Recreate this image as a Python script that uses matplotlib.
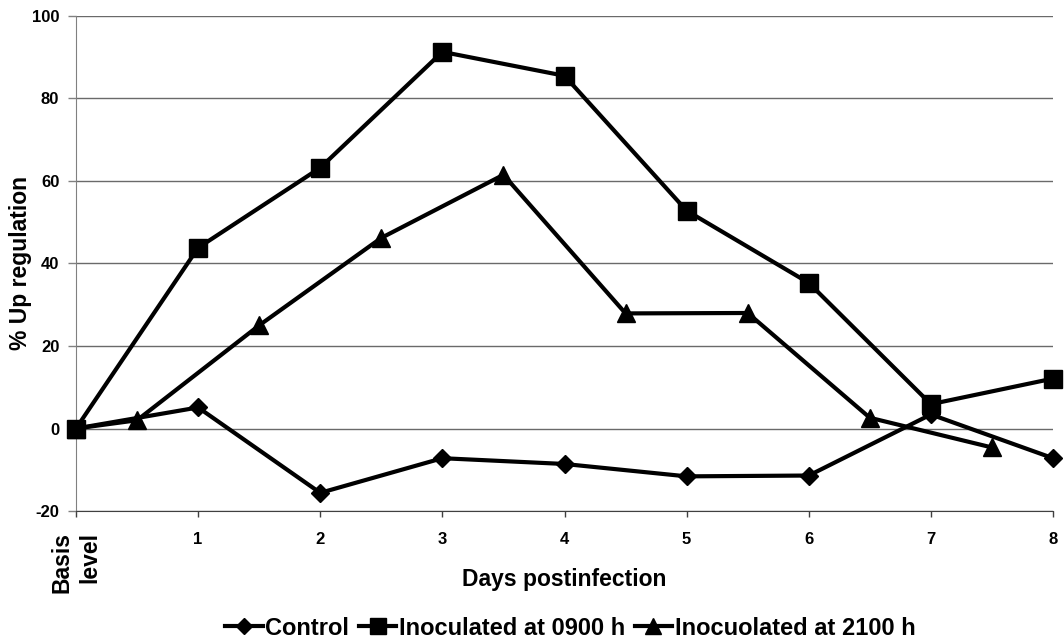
import matplotlib.pyplot as plt

plt.rcParams['font.family'] = ['Liberation Sans', 'DejaVu Sans']
plt.rcParams['font.weight'] = 'bold'
plt.rcParams['axes.labelweight'] = 'bold'
plt.rcParams['axes.unicode_minus'] = False

# values
days = [0, 1, 2, 3, 4, 5, 6, 7, 8]
control = [0, 5.1, -15.6, -7.2, -8.6, -11.6, -11.4, 3.4, -7.2]
inoc_0900 = [0, 43.8, 63.2, 91.3, 85.5, 52.8, 35.3, 5.9, 12.1]
days_2100 = [0, 0.5, 1.5, 2.5, 3.5, 4.5, 5.5, 6.5, 7.5]
inoc_2100 = [0, 2.0, 25.0, 46.2, 61.5, 27.9, 28.0, 2.6, -4.6]
xlabels = ['Basis\nlevel', '1', '2', '3', '4', '5', '6', '7', '8']
yticks = [-20, 0, 20, 40, 60, 80, 100]

fig = plt.figure(figsize=(10.64, 6.39), dpi=100)
ax = fig.add_axes([0.0714, 0.2003, 0.9183, 0.7747])

lw = 3
ax.plot(days, control, color='black', lw=lw, marker='D', ms=9,
        clip_on=False, label='Control', zorder=3)
ax.plot(days, inoc_0900, color='black', lw=lw, marker='s', ms=13,
        clip_on=False, label='Inoculated at 0900 h', zorder=4)
ax.plot(days_2100, inoc_2100, color='black', lw=lw, marker='^', ms=13,
        clip_on=False, label='Inocuolated at 2100 h', zorder=5)

ax.set_xlim(0, 8)
ax.set_ylim(-20, 100)
ax.set_yticks(yticks)
ax.set_xticks(days)
ax.set_xticklabels(xlabels)

ax.tick_params(axis='y', labelsize=12, length=6, width=1, color='#808080', pad=6)
ax.tick_params(axis='x', labelsize=12, length=4, width=1, color='#404040', pad=11)

# "Basis level" is bigger and turned on its side
first = ax.get_xticklabels()[0]
first.set_rotation(90)
first.set_fontsize(16.5)
first.set_va('top')
first.set_multialignment('right')
first.set_linespacing(1.3)

ax.yaxis.grid(True, color='#6a6a6a', lw=1)
ax.set_axisbelow(True)
for s in ['top', 'right']:
    ax.spines[s].set_visible(False)
ax.spines['left'].set_color('#808080')
ax.spines['bottom'].set_color('#404040')

ax.set_ylabel('% Up regulation', fontsize=16.5, va='center')
ax.yaxis.set_label_coords(-0.057, 0.5)
ax.set_xlabel('Days postinfection', fontsize=16.5, va='center')
ax.xaxis.set_label_coords(0.5, -0.139)

fig.legend(loc='center', bbox_to_anchor=(0.536, 0.017), ncol=3, frameon=False,
           fontsize=17, handlelength=1.6, handletextpad=0.1, columnspacing=0.4,
           markerscale=0.9)

fig.savefig('out.png', dpi=100)
